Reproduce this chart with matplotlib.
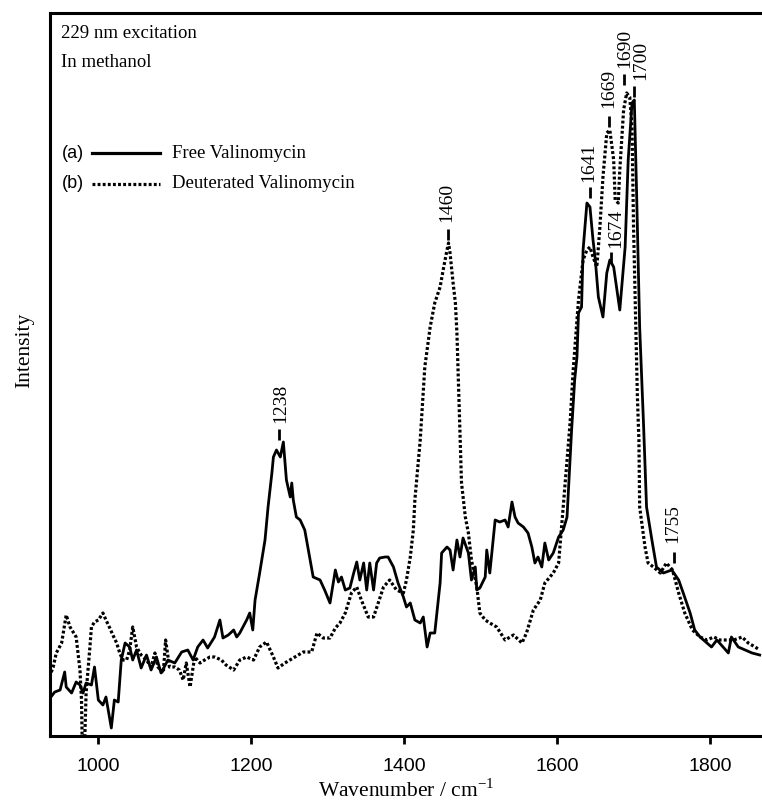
import matplotlib

matplotlib.use("Agg")
import matplotlib.pyplot as plt
from matplotlib.lines import Line2D

# Free valinomycin (solid)
free_wn = [938, 943, 950, 956, 958, 965, 971, 976, 980, 984, 991, 995, 1000,
           1006, 1010, 1017, 1021, 1026, 1030, 1035, 1041, 1045, 1050, 1056,
           1063, 1069, 1076, 1082, 1091, 1100, 1109, 1117, 1124, 1130, 1137,
           1143, 1152, 1159, 1163, 1170, 1177, 1181, 1185, 1194, 1198, 1202,
           1205, 1211, 1218, 1222, 1227, 1229, 1233, 1238, 1242, 1246, 1251,
           1253, 1255, 1259, 1264, 1270, 1277, 1281, 1290, 1296, 1303, 1310,
           1314, 1318, 1323, 1329, 1334, 1338, 1342, 1347, 1351, 1355, 1360,
           1364, 1368, 1375, 1379, 1386, 1392, 1399, 1403, 1408, 1414, 1421,
           1425, 1430, 1434, 1440, 1447, 1449, 1456, 1460, 1464, 1469, 1473,
           1477, 1484, 1488, 1493, 1495, 1499, 1506, 1508, 1512, 1519, 1525,
           1532, 1536, 1541, 1545, 1549, 1556, 1562, 1567, 1571, 1575, 1580,
           1584, 1589, 1595, 1602, 1608, 1613, 1619, 1623, 1626, 1628, 1632,
           1634, 1639, 1643, 1647, 1650, 1654, 1660, 1665, 1669, 1674, 1682,
           1689, 1693, 1698, 1701, 1704, 1708, 1713, 1717, 1724, 1730, 1739,
           1750, 1759, 1765, 1774, 1780, 1787, 1796, 1802, 1809, 1817, 1824,
           1828, 1837, 1846, 1855, 1865]
free_int = [39, 44, 46, 64, 49, 43, 54, 51, 43, 53, 51, 69, 36,
            31, 39, 8, 36, 34, 76, 93, 89, 76, 86, 68,
            81, 66, 79, 63, 76, 73, 84, 86, 76, 89, 96,
            88, 99, 116, 98, 101, 106, 99, 103, 116, 123, 106,
            136, 163, 196, 229, 263, 279, 286, 279, 294, 256, 239,
            253, 236, 219, 216, 206, 176, 159, 156, 146, 133, 166,
            154, 159, 146, 148, 163, 174, 156, 173, 146, 173, 146,
            173, 178, 179, 179, 169, 153, 139, 129, 133, 116, 113,
            119, 89, 103, 103, 153, 183, 189, 186, 166, 196, 179,
            198, 183, 156, 169, 146, 148, 159, 186, 163, 216, 214,
            216, 209, 234, 219, 213, 209, 203, 189, 173, 179, 169,
            193, 176, 183, 199, 206, 219, 306, 356, 379, 423, 429,
            486, 533, 529, 496, 476, 439, 419, 463, 476, 469, 426,
            489, 576, 633, 636, 543, 409, 313, 229, 196, 169, 163,
            166, 156, 143, 123, 106, 99, 93, 89, 96, 89, 83,
            99, 89, 86, 83, 81]

# Deuterated valinomycin (dotted)
deut_wn = [936, 941, 945, 952, 958, 963, 967, 971, 973, 976, 978, 979, 982,
           984, 989, 991, 995, 1000, 1006, 1010, 1015, 1019, 1024, 1028, 1032,
           1037, 1041, 1045, 1050, 1056, 1063, 1069, 1074, 1078, 1085, 1088,
           1093, 1100, 1106, 1111, 1115, 1120, 1126, 1133, 1139, 1146, 1152,
           1161, 1167, 1177, 1185, 1194, 1203, 1211, 1220, 1229, 1235, 1244,
           1255, 1268, 1279, 1286, 1294, 1303, 1310, 1316, 1323, 1331, 1338,
           1344, 1353, 1360, 1366, 1373, 1381, 1390, 1399, 1403, 1408, 1412,
           1414, 1421, 1427, 1434, 1440, 1447, 1451, 1456, 1458, 1460, 1464,
           1467, 1469, 1471, 1473, 1475, 1480, 1484, 1488, 1495, 1499, 1506,
           1512, 1521, 1532, 1543, 1554, 1560, 1569, 1578, 1584, 1595, 1602,
           1608, 1617, 1621, 1628, 1634, 1639, 1643, 1647, 1652, 1656, 1660,
           1665, 1669, 1674, 1676, 1680, 1682, 1687, 1691, 1695, 1698, 1700,
           1703, 1705, 1707, 1708, 1715, 1719, 1726, 1735, 1743, 1751, 1759,
           1767, 1777, 1787, 1796, 1805, 1813, 1822, 1831, 1842, 1850, 1859,
           1865]
deut_int = [59, 69, 83, 93, 121, 109, 104, 99, 86, 66, 36, -10, -10,
            43, 89, 109, 114, 116, 123, 116, 108, 101, 93, 83, 76,
            76, 86, 109, 89, 81, 76, 69, 83, 69, 63, 96,
            69, 69, 66, 56, 73, 49, 79, 73, 76, 79, 79,
            76, 71, 66, 76, 79, 76, 89, 94, 79, 68, 73,
            78, 84, 84, 103, 98, 98, 108, 113, 123, 143, 149,
            136, 119, 119, 133, 149, 156, 146, 143, 156, 179, 206,
            236, 296, 369, 409, 433, 449, 466, 486, 493, 483, 453,
            433, 403, 353, 303, 253, 219, 203, 176, 149, 123, 116,
            113, 109, 96, 101, 93, 103, 126, 136, 153, 163, 173,
            229, 313, 365, 436, 476, 486, 489, 479, 469, 509, 559,
            603, 606, 576, 536, 533, 566, 626, 643, 639, 609, 509,
            409, 340, 296, 229, 189, 173, 169, 163, 173, 166, 143,
            123, 106, 99, 96, 99, 96, 96, 96, 99, 93, 89,
            86]

peak_labels = ["1238", "1460", "1641", "1669", "1674", "1690", "1700", "1755"]
peak_wn = [1236, 1457, 1643, 1668, 1671, 1688, 1700, 1753]

SERIF = "Liberation Serif"
SANS = "Liberation Sans"
DOTS = (0, (0.9, 0.7))

plt.rcParams["mathtext.fontset"] = "custom"
plt.rcParams["mathtext.rm"] = SERIF

fig = plt.figure(figsize=(7.62, 8.05), dpi=100)
ax = fig.add_axes([50 / 762, 1 - 736 / 805, 712 / 762, 723 / 805])

ax.plot(free_wn, free_int, color="black", lw=2.0, solid_joinstyle="round")
ax.plot(deut_wn, deut_int, color="black", lw=2.3, linestyle=DOTS,
        dash_capstyle="butt")

ax.set_xlim(936.8, 1868)
ax.set_ylim(0, 723)

# peak markers: short bar above the peak, rotated number above the bar
tick_lo = [296, 496, 538, 609, 473, 651, 639, 173]
text_x = [1238, 1456, 1642, 1667, 1677, 1688, 1710, 1751]
text_y = [313, 514, 554, 628, 488, 668, 656, 193]
for lab, wn, lo, tx, ty in zip(peak_labels, peak_wn, tick_lo, text_x, text_y):
    ax.plot([wn, wn], [lo, lo + 11], color="black", lw=2.0,
            solid_capstyle="butt")
    ax.text(tx, ty, lab, rotation=90, ha="center", va="bottom",
            fontsize=14, family=SERIF)

ax.text(0.015, 0.972, "229 nm excitation", transform=ax.transAxes,
        ha="left", va="center", fontsize=13.5, family=SERIF)
ax.text(0.015, 0.932, "In methanol", transform=ax.transAxes,
        ha="left", va="center", fontsize=13.5, family=SERIF)

# legend drawn by hand: "(a) ---- label"
for ypos, tag, style, name in [(0.806, "(a)", "-", "Free Valinomycin"),
                               (0.7635, "(b)", DOTS,
                                "Deuterated Valinomycin")]:
    ax.text(0.0164, ypos, tag, transform=ax.transAxes, ha="left",
            va="center", fontsize=13, family=SANS)
    ax.add_line(Line2D([0.0586, 0.1545], [ypos, ypos], transform=ax.transAxes,
                       color="black", lw=2.3, linestyle=style,
                       dash_capstyle="butt"))
    ax.text(0.171, ypos, name, transform=ax.transAxes, ha="left",
            va="center", fontsize=13.5, family=SERIF)

ax.set_xticks([1000, 1200, 1400, 1600, 1800])
ax.set_yticks([])
ax.tick_params(axis="x", direction="out", length=6, width=2, pad=10,
               labelsize=14)
for t in ax.get_xticklabels():
    t.set_family(SANS)

for side in ["left", "bottom", "top"]:
    ax.spines[side].set_linewidth(2.2)
ax.spines["right"].set_visible(False)

ax.set_xlabel(r"Wavenumber / cm$^{-1}$", fontsize=15.5, family=SERIF,
              labelpad=3)
ax.set_ylabel("Intensity", fontsize=15.5, family=SERIF)
ax.yaxis.set_label_coords(-0.022, 0.534)

fig.savefig("out.png", dpi=100)
